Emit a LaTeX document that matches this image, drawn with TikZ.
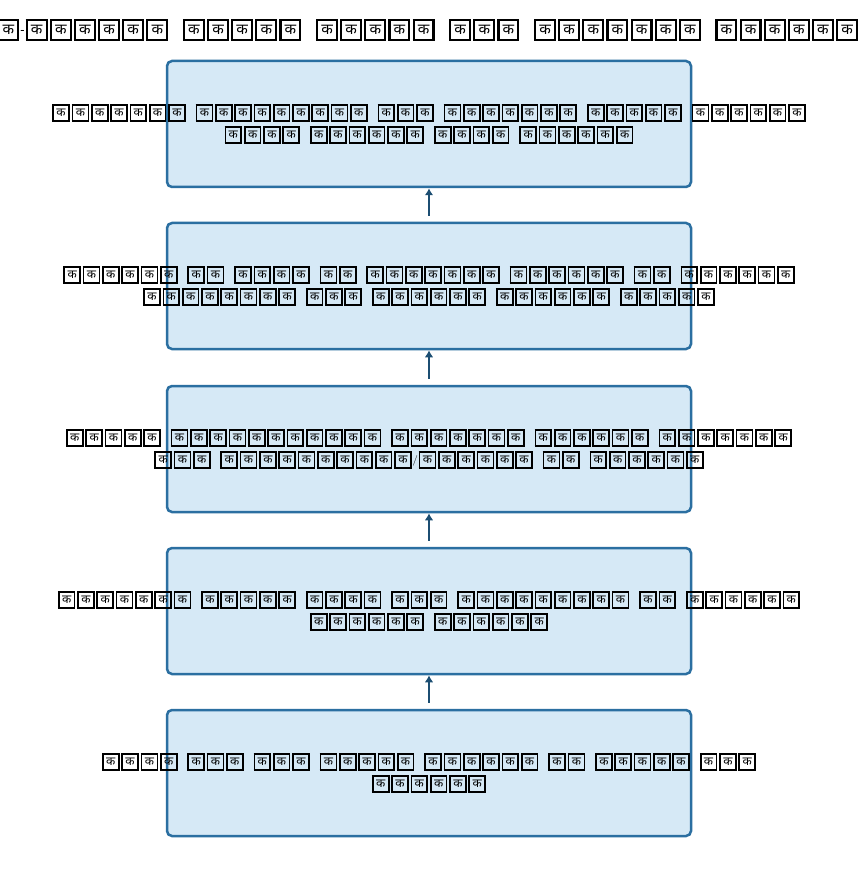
\documentclass[tikz,border=0pt]{standalone}
\usepackage{fontspec}
\usetikzlibrary{arrows.meta}
\newfontfamily\devfont[Script=Devanagari]{Noto Sans}
\definecolor{boxfill}{HTML}{D6E9F6}
\definecolor{boxline}{HTML}{2B6FA1}
\definecolor{arrcol}{HTML}{1C4E72}
\newcommand\tofu{\makebox[19.3pt]{\fboxsep=0pt\fboxrule=1.7pt\fbox{\makebox[14.2pt]{\rule[-3.6pt]{0pt}{13.8pt}\devfont\fontsize{12}{12}\selectfont क}}}}
\newcommand\W[1]{\foreach\i in {1,...,#1}{\tofu}}
\newcommand\wg{\hspace{8.2pt}}
\newcommand\tg{\hspace{10pt}}
\tikzset{
  stagebox/.style={draw=boxline, fill=boxfill, line width=2.5pt, rounded corners=5pt,
    minimum width=524pt, minimum height=126pt, inner sep=0pt},
  stagetext/.style={inner sep=0pt, align=center, font=\fontsize{10.5}{22}\selectfont},
  arr/.style={draw=arrcol, line width=2.6pt, -{Latex[length=7pt,width=8.5pt]}},
  titletext/.style={inner sep=0pt, anchor=west, scale=1.25, transform shape, font=\devfont\fontsize{10.5}{12}\selectfont}
}
\begin{document}
\begin{tikzpicture}[x=1pt,y=-1pt]
\useasboundingbox (0,0) rectangle (858,877);
\fill[white] (0,0) rectangle (858,877);
\clip (0,0) rectangle (858,877);
\node[titletext] (title) at (-4,30) {\W{1}\textbf{-}\W{6}\tg\W{5}\tg\W{5}\tg\W{3}\tg\W{7}\tg\W{6}};
\node[stagebox] (b1) at (429,124) {};
\node[stagebox] (b2) at (429,286) {};
\node[stagebox] (b3) at (429,449) {};
\node[stagebox] (b4) at (429,611) {};
\node[stagebox] (b5) at (429,773) {};
\node[stagetext] (t1) at (b1.center) {\W{7}\wg\W{9}\wg\W{3}\wg\W{7}\wg\W{5}\wg\W{6}\\\W{4}\wg\W{6}\wg\W{4}\wg\W{6}};
\node[stagetext] (t2) at (b2.center) {\W{6}\wg\W{2}\wg\W{4}\wg\W{2}\wg\W{7}\wg\W{6}\wg\W{2}\wg\W{6}\\\W{8}\wg\W{3}\wg\W{6}\wg\W{6}\wg\W{5}};
\node[stagetext] (t3) at (b3.center) {\W{5}\wg\W{11}\wg\W{7}\wg\W{6}\wg\W{7}\\\W{3}\wg\W{10}/\W{6}\wg\W{2}\wg\W{6}};
\node[stagetext] (t4) at (b4.center) {\W{7}\wg\W{5}\wg\W{4}\wg\W{3}\wg\W{9}\wg\W{2}\wg\W{6}\\\W{6}\wg\W{6}};
\node[stagetext] (t5) at (b5.center) {\W{4}\wg\W{3}\wg\W{3}\wg\W{5}\wg\W{6}\wg\W{2}\wg\W{5}\wg\W{3}\\\W{6}};
\draw[arr] ([yshift=6pt]b5.north) -- (b4.south);
\draw[arr] ([yshift=6pt]b4.north) -- (b3.south);
\draw[arr] ([yshift=6pt]b3.north) -- (b2.south);
\draw[arr] ([yshift=6pt]b2.north) -- (b1.south);
\end{tikzpicture}
\end{document}
